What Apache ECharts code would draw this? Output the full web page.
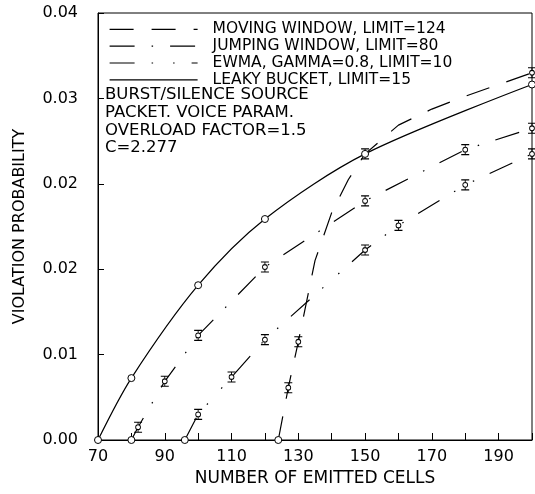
<!DOCTYPE html>
<html>
<head>
<meta charset="utf-8">
<title>Violation probability vs emitted cells</title>
<style>
  * { margin: 0; padding: 0; }
  html, body { background: #fff; }
  #main { width: 535px; height: 494px; }
</style>
</head>
<body>
<div id="main"></div>
<script src="https://cdn.jsdelivr.net/npm/echarts@6/dist/echarts.min.js"></script>
<script>
// values: x = number of emitted cells, y = violation probability
var movingX = [124, 127, 130, 135, 140, 145, 150, 160, 170, 180, 190, 200];
var movingY = [0, 0.0049, 0.0092, 0.0168, 0.0213, 0.0244, 0.0268, 0.0295, 0.0310, 0.0322, 0.0333, 0.0344];
var movingMeasured = [124, 127, 130, 150, 200];

var jumpingX = [80, 82, 90, 100, 120, 150, 180, 200];
var jumpingY = [0, 0.0012, 0.0055, 0.0098, 0.0162, 0.0224, 0.0272, 0.0292];

var ewmaX = [96, 100, 110, 120, 150, 160, 180, 200];
var ewmaY = [0, 0.0024, 0.0059, 0.0094, 0.0178, 0.0201, 0.0239, 0.0268];

var leakyX = [70, 80, 100, 120, 150, 200];
var leakyY = [0, 0.0058, 0.0145, 0.0207, 0.0268, 0.0333];

var seriesNames = ['MOVING WINDOW, LIMIT=124', 'JUMPING WINDOW, LIMIT=80',
                   'EWMA, GAMMA=0.8, LIMIT=10', 'LEAKY BUCKET, LIMIT=15'];
var noteLines = ['BURST/SILENCE SOURCE', 'PACKET. VOICE PARAM.', 'OVERLOAD FACTOR=1.5', 'C=2.277'];
var xTickLabels = [70, 90, 110, 130, 150, 170, 190];

var font = 'DejaVu Sans';
// circle with small error bar caps
var errBar = 'path://M0,0L8,0M4,0L4,2.6M4,7.4L4,10M0,10L8,10M4,2.6A2.4,2.4,0,1,1,4,7.4A2.4,2.4,0,1,1,4,2.6Z';

function points(xs, ys, measured, barred) {
    return xs.map(function (x, i) {
        var item = { value: [x, ys[i]] };
        if (measured && measured.indexOf(x) < 0) {
            item.symbol = 'none';
        } else if (ys[i] === 0 || !barred) {
            item.symbol = 'circle';
            item.symbolSize = 7;
        }
        return item;
    });
}

function lineSeries(name, data, dash, smooth) {
    return {
        name: name,
        type: 'line',
        data: data,
        smooth: smooth || false,
        symbol: errBar,
        symbolSize: [8, 10],
        showAllSymbol: true,
        z: 3,
        lineStyle: { color: '#000', width: 1.2, type: dash },
        itemStyle: { color: '#fff', borderColor: '#000', borderWidth: 1 },
        emphasis: { disabled: true }
    };
}

var myChart = echarts.init(document.getElementById('main'));

var option = {
    animation: false,
    backgroundColor: '#fff',
    grid: { left: 98, right: 3, top: 13, bottom: 54, show: true, borderColor: '#000', borderWidth: 1 },
    legend: {
        orient: 'vertical',
        left: 104,
        top: 16,
        itemWidth: 88,
        itemHeight: 12,
        itemGap: 0,
        selectedMode: false,
        data: seriesNames,
        itemStyle: { opacity: 0 },
        lineStyle: { width: 1.2 },
        textStyle: { fontFamily: font, fontSize: 15.5, color: '#000', lineHeight: 16.8, padding: [0, 0, 0, 10] }
    },
    xAxis: {
        type: 'value',
        min: 70,
        max: 200,
        interval: 10,
        name: 'NUMBER OF EMITTED CELLS',
        nameLocation: 'middle',
        nameGap: 30,
        nameTextStyle: { fontFamily: font, fontSize: 17, color: '#000' },
        axisLine: { lineStyle: { color: '#000', width: 1 } },
        axisTick: { inside: true, length: 7, lineStyle: { color: '#000' } },
        axisLabel: {
            fontFamily: font, fontSize: 16, color: '#000', margin: 9,
            formatter: function (v) { return xTickLabels.indexOf(v) >= 0 ? String(v) : ''; }
        },
        splitLine: { show: false }
    },
    yAxis: {
        type: 'value',
        min: 0,
        max: 0.04,
        interval: 0.008,
        name: 'VIOLATION PROBABILITY',
        nameLocation: 'middle',
        nameGap: 70,
        nameTextStyle: { fontFamily: font, fontSize: 16, color: '#000' },
        axisLine: { show: true, lineStyle: { color: '#000', width: 1 } },
        axisTick: { show: true, inside: true, length: 6, lineStyle: { color: '#000' } },
        axisLabel: {
            fontFamily: font, fontSize: 16, color: '#000', margin: 20,
            formatter: function (v) { return v.toFixed(2); }
        },
        splitLine: { show: false }
    },
    graphic: [
        {
            type: 'text',
            x: 105,
            y: 86,
            style: { text: noteLines.join('\n'), font: '16.5px "' + font + '"', fill: '#000', lineHeight: 17.7 }
        }
    ],
    series: [
        lineSeries(seriesNames[0], points(movingX, movingY, movingMeasured, true), [24, 18], false),
        lineSeries(seriesNames[1], points(jumpingX, jumpingY, null, true), [25, 17, 1.5, 17], false),
        lineSeries(seriesNames[2], points(ewmaX, ewmaY, null, true), [25, 17, 1.5, 20, 1.5, 17], false),
        lineSeries(seriesNames[3], points(leakyX, leakyY, null, false), 'solid', 0.3)
    ]
};

myChart.setOption(option);
</script>
</body>
</html>
